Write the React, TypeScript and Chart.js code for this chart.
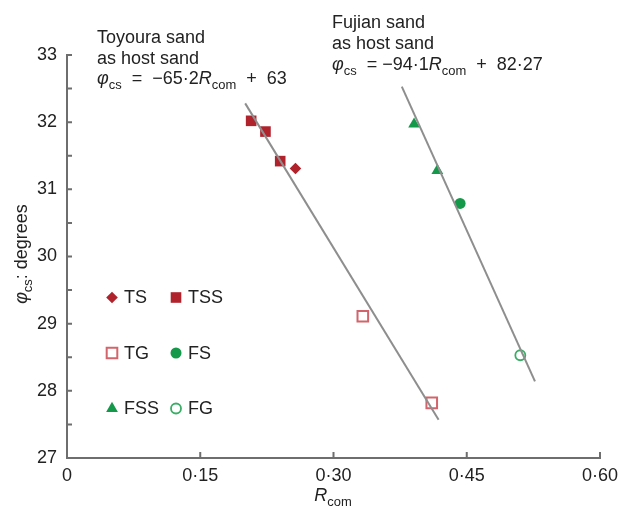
import React, { useEffect, useRef } from 'react';
import { Chart, registerables } from 'chart.js';
import { drawPoint } from 'chart.js/helpers';

Chart.register(...registerables);

const FONT = "'Liberation Sans', Arial, sans-serif";
const FS = 18;

// ---- data ----
const tsR = [0.2572];
const tsPhi = [31.31];
const tssR = [0.2073, 0.2234, 0.24];
const tssPhi = [32.02, 31.86, 31.42];
const tgR = [0.333, 0.4106];
const tgPhi = [29.11, 27.82];
const fsR = [0.4425];
const fsPhi = [30.79];
const fssR = [0.3907, 0.4169];
const fssPhi = [31.97, 31.28];
const fgR = [0.5103];
const fgPhi = [28.53];
const toyLineR = [0.2006, 0.4183];
const toyLinePhi = [32.28, 27.57];
const fujLineR = [0.3769, 0.5268];
const fujLinePhi = [32.53, 28.14];

const xTicks = [0, 0.15, 0.3, 0.45, 0.6];
const xTickLabels = ['0', '0·15', '0·30', '0·45', '0·60'];
const yMinorTicks = [27, 27.5, 28, 28.5, 29, 29.5, 30, 30.5, 31, 31.5, 32, 32.5, 33];

const DARK_RED = '#b0222c';
const LIGHT_RED = '#d3646b';
const GREEN = '#14994a';
const LIGHT_GREEN = '#3aad66';
const LINE_GRAY = '#8e8e8e';
const AXIS_GRAY = '#6e6e6e';
const TEXT = '#222222';

const pts = (xs: number[], ys: number[]) => xs.map((x, i) => ({ x, y: ys[i] }));

type Seg = { t: string; i?: boolean; s?: boolean };

function rich(ctx: CanvasRenderingContext2D, segs: Seg[], x: number, y: number, size: number, align: 'left' | 'center' = 'left') {
  const fontFor = (sg: Seg) => `${sg.i ? 'italic ' : ''}${sg.s ? size * 0.72 : size}px ${FONT}`;
  let w = 0;
  for (const sg of segs) {
    ctx.font = fontFor(sg);
    w += ctx.measureText(sg.t).width;
  }
  let cx = align === 'center' ? x - w / 2 : x;
  ctx.textAlign = 'left';
  ctx.textBaseline = 'alphabetic';
  for (const sg of segs) {
    ctx.font = fontFor(sg);
    ctx.fillText(sg.t, cx, y + (sg.s ? size * 0.3 : 0));
    cx += ctx.measureText(sg.t).width;
  }
}

const legendItems = [
  { label: 'TS', style: 'rectRot', r: 5.8, fill: DARK_RED, stroke: DARK_RED, bw: 0, col: 0, row: 0 },
  { label: 'TSS', style: 'rect', r: 7.5, fill: DARK_RED, stroke: DARK_RED, bw: 0, col: 1, row: 0 },
  { label: 'TG', style: 'rect', r: 7.5, fill: '#ffffff', stroke: LIGHT_RED, bw: 2, col: 0, row: 1 },
  { label: 'FS', style: 'circle', r: 5.5, fill: GREEN, stroke: GREEN, bw: 0, col: 1, row: 1 },
  { label: 'FSS', style: 'triangle', r: 6.8, fill: GREEN, stroke: GREEN, bw: 0, col: 0, row: 2 },
  { label: 'FG', style: 'circle', r: 5, fill: '#ffffff', stroke: LIGHT_GREEN, bw: 1.8, col: 1, row: 2 },
];

const decorPlugin = {
  id: 'decor',
  afterDraw(chart: any) {
    const ctx: CanvasRenderingContext2D = chart.ctx;
    const xs = chart.scales.x;
    const ys = chart.scales.y;
    ctx.save();
    // inward tick marks
    ctx.strokeStyle = AXIS_GRAY;
    ctx.lineWidth = 2;
    ctx.beginPath();
    for (const v of xTicks.slice(1)) {
      const px = xs.getPixelForValue(v);
      ctx.moveTo(px, ys.bottom);
      ctx.lineTo(px, ys.bottom - 6);
    }
    for (const v of yMinorTicks.slice(1)) {
      const py = ys.getPixelForValue(v);
      ctx.moveTo(xs.left, py);
      ctx.lineTo(xs.left + 5, py);
    }
    ctx.stroke();

    ctx.fillStyle = TEXT;
    // annotations
    ctx.font = `${FS}px ${FONT}`;
    ctx.textBaseline = 'alphabetic';
    ctx.textAlign = 'left';
    ctx.fillText('Toyoura sand', 97, 42.5);
    ctx.fillText('as host sand', 97, 63.5);
    rich(ctx, [
      { t: 'φ', i: true }, { t: 'cs', s: true }, { t: '  =  −65·2' }, { t: 'R', i: true }, { t: 'com', s: true }, { t: '  +  63' },
    ], 97, 84, FS);
    ctx.font = `${FS}px ${FONT}`;
    ctx.fillText('Fujian sand', 332, 27.5);
    ctx.fillText('as host sand', 332, 48.5);
    rich(ctx, [
      { t: 'φ', i: true }, { t: 'cs', s: true }, { t: '  = −94·1' }, { t: 'R', i: true }, { t: 'com', s: true }, { t: '  +  82·27' },
    ], 332, 70, FS);

    // x title
    rich(ctx, [{ t: 'R', i: true }, { t: 'com', s: true }], 333, 501, FS, 'center');
    // y title
    ctx.save();
    ctx.translate(27, 254);
    ctx.rotate(-Math.PI / 2);
    rich(ctx, [{ t: 'φ', i: true }, { t: 'cs', s: true }, { t: ': degrees' }], 0, 0, FS, 'center');
    ctx.restore();

    // legend
    const colX = [112, 176];
    const rowY = [297.5, 353, 408.5];
    for (const it of legendItems) {
      const x = colX[it.col];
      const y = rowY[it.row];
      ctx.fillStyle = it.fill;
      ctx.strokeStyle = it.stroke;
      ctx.lineWidth = it.bw;
      drawPoint(ctx, { pointStyle: it.style, radius: it.r, rotation: 0, borderWidth: it.bw } as any, x, y);
      ctx.fillStyle = TEXT;
      ctx.font = `${FS}px ${FONT}`;
      ctx.textAlign = 'left';
      ctx.textBaseline = 'middle';
      ctx.fillText(it.label, x + 12, y + 1);
    }
    ctx.restore();
  },
};

export default function App() {
  const ref = useRef<HTMLCanvasElement>(null);
  useEffect(() => {
    document.body.style.margin = '0';
    const canvas = ref.current!;
    const chart = new Chart(canvas, {
      type: 'scatter',
      data: {
        datasets: [
          { type: 'line', data: pts(toyLineR, toyLinePhi), borderColor: LINE_GRAY, borderWidth: 2, pointRadius: 0, fill: false, order: 0 } as any,
          { type: 'line', data: pts(fujLineR, fujLinePhi), borderColor: LINE_GRAY, borderWidth: 2, pointRadius: 0, fill: false, order: 0 } as any,
          { label: 'TS', data: pts(tsR, tsPhi), pointStyle: 'rectRot', pointRadius: 5.8, backgroundColor: DARK_RED, borderColor: DARK_RED, borderWidth: 0, order: 1 },
          { label: 'TSS', data: pts(tssR, tssPhi), pointStyle: 'rect', pointRadius: 7.5, backgroundColor: DARK_RED, borderColor: DARK_RED, borderWidth: 0, order: 1 },
          { label: 'TG', data: pts(tgR, tgPhi), pointStyle: 'rect', pointRadius: 7.5, backgroundColor: '#ffffff', borderColor: LIGHT_RED, borderWidth: 2, order: 1 },
          { label: 'FS', data: pts(fsR, fsPhi), pointStyle: 'circle', pointRadius: 5.5, backgroundColor: GREEN, borderColor: GREEN, borderWidth: 0, order: 1 },
          { label: 'FSS', data: pts(fssR, fssPhi), pointStyle: 'triangle', pointRadius: 6.8, backgroundColor: GREEN, borderColor: GREEN, borderWidth: 0, order: 1 },
          { label: 'FG', data: pts(fgR, fgPhi), pointStyle: 'circle', pointRadius: 5, backgroundColor: '#ffffff', borderColor: LIGHT_GREEN, borderWidth: 1.8, order: 1 },
        ],
      },
      options: {
        animation: false,
        responsive: false,
        devicePixelRatio: 1,
        layout: { padding: { top: 55, right: 25, left: 0, bottom: 0 } },
        plugins: { legend: { display: false }, tooltip: { enabled: false } },
        scales: {
          x: {
            type: 'linear',
            min: 0,
            max: 0.6,
            afterBuildTicks: (s: any) => { s.ticks = xTicks.map((v) => ({ value: v })); },
            afterFit: (s: any) => { s.height = 49; s.paddingLeft = 0; s.paddingRight = 0; },
            grid: { display: false, drawTicks: false },
            border: { display: true, color: AXIS_GRAY, width: 2 },
            ticks: {
              padding: 7,
              color: TEXT,
              font: { family: FONT, size: FS },
              maxRotation: 0,
              autoSkip: false,
              callback: (v: any) => { const i = xTicks.indexOf(Number(v)); return i >= 0 ? xTickLabels[i] : ''; },
            },
          },
          y: {
            type: 'linear',
            min: 27,
            max: 33,
            afterFit: (s: any) => { s.width = 67; s.paddingTop = 0; s.paddingBottom = 0; },
            grid: { display: false, drawTicks: false },
            border: { display: true, color: AXIS_GRAY, width: 2 },
            ticks: {
              stepSize: 1,
              padding: 10,
              color: TEXT,
              font: { family: FONT, size: FS },
            },
          },
        },
      },
      plugins: [decorPlugin],
    });
    return () => chart.destroy();
  }, []);
  return <canvas ref={ref} width={625} height={507} style={{ display: 'block', width: 625, height: 507 }} />;
}
